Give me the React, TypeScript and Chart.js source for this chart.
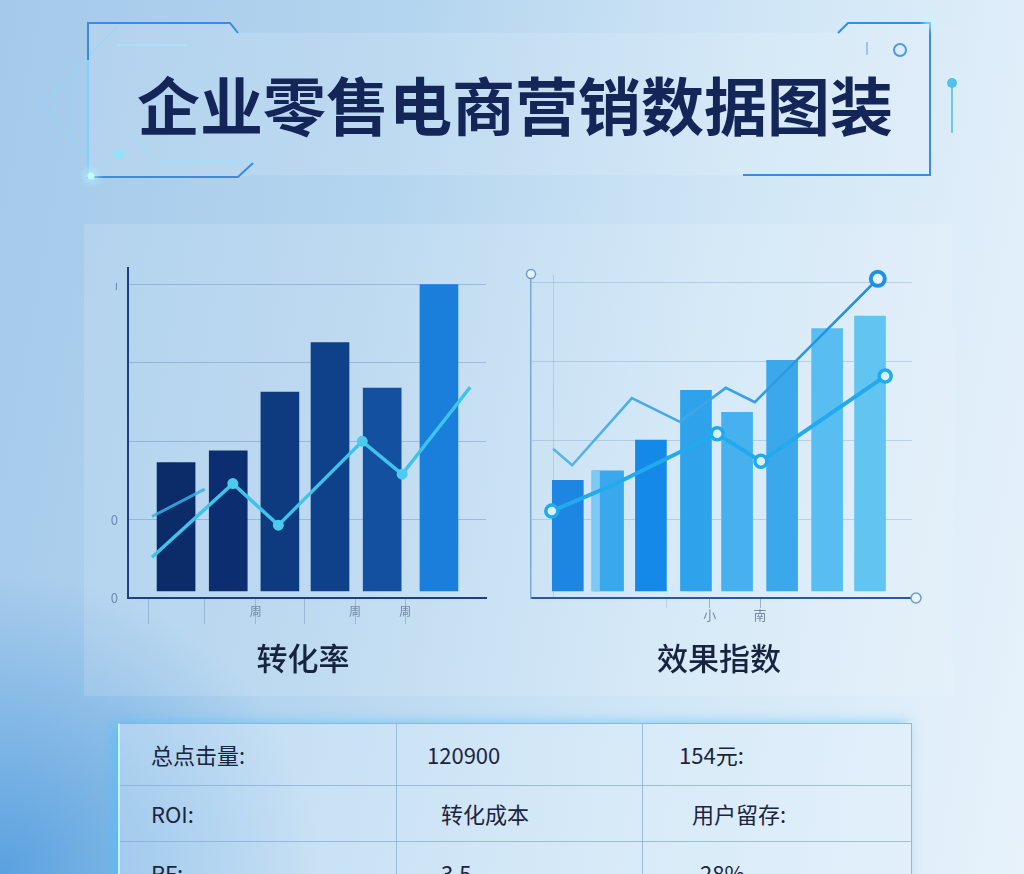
import React, { useEffect, useRef } from 'react';
import { Chart, registerables } from 'chart.js';

Chart.register(...registerables);

const FONT = '"Noto Sans CJK SC", "Noto Sans", sans-serif';

// ---------- Left chart (转化率) ----------
const leftBarX = [0.94, 1.96, 2.97, 3.95, 4.97, 6.08];
const leftBarValues = [1.73, 1.88, 2.63, 3.26, 2.68, 4.0];
const leftBarColors = ['#0b2b69', '#0c2e70', '#0e3b80', '#0f408a', '#13509f', '#1a7fdb'];
const leftLineX = [0.47, 2.05, 2.94, 4.58, 5.36, 6.69];
const leftLineValues = [0.52, 1.46, 0.93, 2.0, 1.58, 2.69];
const leftLinePoints = [0, 5.5, 5.5, 5.5, 5.5, 0];
const leftFaintX = [0.47, 1.5];
const leftFaintValues = [1.04, 1.39];
const leftTickX = [0.41, 1.5, 2.5, 3.46, 4.44, 5.42];
const leftTickLabels = ['', '', '周', '', '周', '周'];
const leftYTicks = [0, 1, 2, 3, 4];
const leftYLabels = ['0', '0', '', '', 'ı'];

// ---------- Right chart (效果指数) ----------
const rightBarX = [0.85, 1.78, 2.77, 3.81, 4.76, 5.8, 6.84, 7.83];
const rightBarValues = [1.49, 1.61, 2.0, 2.63, 2.35, 3.01, 3.41, 3.57];
const rightBarColors = ['#1d86e3', '#3aa8ec', '#1589e8', '#2ea3eb', '#46b1ee', '#3aa8ea', '#58bdf0', '#62c4f1'];
const rightHighlightX = [1.49];
const rightHighlightValues = [1.61];
const rightLineAX = [0.51, 0.95, 2.33, 3.44, 4.5, 5.17, 8.01];
const rightLineAValues = [1.89, 1.68, 2.53, 2.23, 2.66, 2.48, 4.04];
const rightLineAPoints = [0, 0, 0, 0, 0, 0, 7];
const rightLineBX = [0.48, 1.89, 4.3, 5.31, 8.18];
const rightLineBValues = [1.1, 1.43, 2.08, 1.73, 2.81];
const rightLineBPoints = [6, 0, 6, 6, 6];
const rightTickX = [0.51, 3.14, 4.13, 5.29];
const rightTickLabels = ['', '', '小', '南'];
const rightYTicks = [0, 1, 2, 3, 4];

// ---------- Table ----------
const tableRows = [
  ['总点击量:', '120900', '154元:'],
  ['ROI:', '转化成本', '用户留存:'],
  ['RF:', '3.5', '28%'],
];

const pts = (xs: number[], ys: number[]) => xs.map((x, i) => ({ x, y: ys[i] }));

function leftConfig(): any {
  return {
    type: 'bar',
    data: {
      datasets: [
        {
          type: 'line',
          data: pts(leftLineX, leftLineValues),
          borderColor: '#3fc3ec',
          borderWidth: 3.5,
          pointRadius: leftLinePoints,
          pointBackgroundColor: '#4ccbef',
          pointBorderWidth: 0,
          tension: 0,
          clip: false,
          order: 0,
        },
        {
          type: 'line',
          data: pts(leftFaintX, leftFaintValues),
          borderColor: 'rgba(56,176,232,0.85)',
          borderWidth: 3,
          pointRadius: 0,
          order: 0,
        },
        {
          type: 'bar',
          data: pts(leftBarX, leftBarValues),
          backgroundColor: leftBarColors,
          barThickness: 38,
          base: 0.09,
          grouped: false,
          order: 1,
        },
      ],
    },
    options: {
      responsive: false,
      animation: false,
      layout: { padding: { top: 15, right: 24, left: 0, bottom: 0 } },
      plugins: { legend: { display: false }, tooltip: { enabled: false } },
      scales: {
        x: {
          type: 'linear',
          min: 0,
          max: 7,
          offset: false,
          afterFit: (s: any) => { s.height = 42; },
          afterBuildTicks: (s: any) => { s.ticks = leftTickX.map((v) => ({ value: v })); },
          grid: { offset: false, drawOnChartArea: false, tickLength: 26, tickColor: 'rgba(110,140,180,0.45)', tickWidth: 1 },
          border: { color: '#1d3f7f', width: 2 },
          ticks: {
            autoSkip: false,
            maxRotation: 0,
            padding: -20,
            color: 'rgba(95,115,145,0.8)',
            font: { family: FONT, size: 12 },
            callback: (_v: any, i: number) => leftTickLabels[i],
          },
        },
        y: {
          min: 0,
          max: 4.215,
          afterFit: (s: any) => { s.width = 38; },
          afterBuildTicks: (s: any) => { s.ticks = leftYTicks.map((v) => ({ value: v })); },
          grid: {
            color: (c: any) => (c.tick && c.tick.value === 0 ? 'rgba(0,0,0,0)' : 'rgba(80,120,180,0.35)'),
            drawTicks: false,
            lineWidth: 1,
          },
          border: { color: '#1d3f7f', width: 2 },
          ticks: {
            padding: 10,
            color: '#6d8db5',
            font: { family: FONT, size: 13 },
            callback: (_v: any, i: number) => leftYLabels[i],
          },
        },
      },
    },
  };
}

const rightDecor = {
  id: 'rightDecor',
  afterDraw(chart: any) {
    const { ctx, chartArea: a } = chart;
    ctx.save();
    ctx.strokeStyle = '#6c9bd0';
    ctx.fillStyle = 'rgba(232,244,252,0.95)';
    ctx.lineWidth = 1.5;
    ctx.beginPath();
    ctx.arc(a.left, a.top - 1, 4.5, 0, Math.PI * 2);
    ctx.fill();
    ctx.stroke();
    ctx.beginPath();
    ctx.arc(a.right + 4, a.bottom, 5, 0, Math.PI * 2);
    ctx.fill();
    ctx.stroke();
    ctx.restore();
  },
};

function rightConfig(): any {
  return {
    type: 'bar',
    data: {
      datasets: [
        {
          type: 'line',
          data: pts(rightLineAX, rightLineAValues),
          borderColor: (c: any) => {
            const { chart } = c;
            const a = chart.chartArea;
            if (!a) return '#2a90e4';
            const g = chart.ctx.createLinearGradient(a.left, 0, a.right, 0);
            g.addColorStop(0, '#5cb9ea');
            g.addColorStop(0.5, '#3aa2e6');
            g.addColorStop(1, '#1a84e0');
            return g;
          },
          borderWidth: 2.6,
          pointRadius: rightLineAPoints,
          pointBorderWidth: 4,
          pointBorderColor: '#1f90e8',
          pointBackgroundColor: '#e6f6ff',
          tension: 0,
          clip: false,
          order: 0,
        },
        {
          type: 'line',
          data: pts(rightLineBX, rightLineBValues),
          borderColor: '#22aaee',
          borderWidth: 4,
          pointRadius: rightLineBPoints,
          pointBorderWidth: 3.5,
          pointBorderColor: '#1faaf0',
          pointBackgroundColor: '#d9f3fd',
          tension: 0,
          clip: false,
          order: 0,
        },
        {
          type: 'bar',
          data: pts(rightHighlightX, rightHighlightValues),
          backgroundColor: '#7ccaf4',
          barThickness: 8,
          base: 0.09,
          grouped: false,
          order: 1,
        },
        {
          type: 'bar',
          data: pts(rightBarX, rightBarValues),
          backgroundColor: rightBarColors,
          barThickness: 31,
          base: 0.09,
          grouped: false,
          order: 2,
        },
      ],
    },
    options: {
      responsive: false,
      animation: false,
      layout: { padding: { top: 25, right: 18, left: 0, bottom: 0 } },
      plugins: { legend: { display: false }, tooltip: { enabled: false } },
      scales: {
        x: {
          type: 'linear',
          min: 0,
          max: 8.8,
          offset: false,
          afterFit: (s: any) => { s.height = 42; },
          afterBuildTicks: (s: any) => { s.ticks = rightTickX.map((v) => ({ value: v })); },
          grid: {
            offset: false,
            drawOnChartArea: true,
            color: (c: any) => (c.index === 0 ? 'rgba(120,160,210,0.35)' : 'rgba(0,0,0,0)'),
            tickColor: (c: any) => (c.index === 0 ? 'rgba(0,0,0,0)' : c.index === 1 ? 'rgba(120,150,190,0.3)' : 'rgba(110,140,180,0.6)'),
            tickLength: 10,
            tickWidth: 1,
          },
          border: { color: '#2d55a0', width: 2 },
          ticks: {
            autoSkip: false,
            maxRotation: 0,
            padding: -1,
            color: 'rgba(95,115,145,0.8)',
            font: { family: FONT, size: 13 },
            callback: (_v: any, i: number) => rightTickLabels[i],
          },
        },
        y: {
          min: 0,
          max: 4.089,
          afterFit: (s: any) => { s.width = 21; },
          afterBuildTicks: (s: any) => { s.ticks = rightYTicks.map((v) => ({ value: v })); },
          grid: {
            color: (c: any) => (c.tick && c.tick.value === 0 ? 'rgba(0,0,0,0)' : 'rgba(110,150,200,0.32)'),
            drawTicks: false,
            lineWidth: 1,
          },
          border: { color: '#7aa8d8', width: 1.5 },
          ticks: { display: false },
        },
      },
    },
    plugins: [rightDecor],
  };
}

function ChartCanvas({ config, left, top }: { config: () => any; left: number; top: number }) {
  const ref = useRef<HTMLCanvasElement | null>(null);
  useEffect(() => {
    if (!ref.current) return;
    const chart = new Chart(ref.current, config());
    return () => chart.destroy();
  }, []);
  return (
    <canvas
      ref={ref}
      width={420}
      height={390}
      style={{ position: 'absolute', left, top, width: 420, height: 390 }}
    />
  );
}

function TitleFrame() {
  return (
    <svg width={1024} height={200} style={{ position: 'absolute', left: 0, top: 0 }}>
      <defs>
        <filter id="blur4" x="-20%" y="-200%" width="140%" height="500%">
          <feGaussianBlur stdDeviation="3" />
        </filter>
        <linearGradient id="topLine" x1="0" x2="1" y1="0" y2="0">
          <stop offset="0" stopColor="#3f8fe0" />
          <stop offset="0.35" stopColor="#9fdcff" />
          <stop offset="1" stopColor="#f4fdff" />
        </linearGradient>
        <linearGradient id="botLine" x1="0" x2="1" y1="0" y2="0">
          <stop offset="0" stopColor="#9fe0fb" />
          <stop offset="0.6" stopColor="#eafbff" />
          <stop offset="1" stopColor="#dff7ff" />
        </linearGradient>
      </defs>
      <polygon points="88,23 230,23 238,33 838,33 848,23 930,23 930,175 743,175 253,175 238,177 88,177" fill="rgba(255,255,255,0.13)" />
      <polyline points="117,27 40,105 88,157" fill="none" stroke="#8fd8f5" strokeWidth="1.2" opacity="0.75" />
      <line x1="72" y1="55" x2="72" y2="143" stroke="#8fd8f5" strokeWidth="1.2" opacity="0.7" />
      <line x1="55" y1="88" x2="55" y2="115" stroke="#8fd8f5" strokeWidth="1.2" opacity="0.6" />
      <line x1="117" y1="45" x2="187" y2="45" stroke="#a8e6fb" strokeWidth="1.5" opacity="0.8" />
      <polyline points="127,132 157,161 253,161" fill="none" stroke="#9fe0fb" strokeWidth="1.3" opacity="0.8" />
      <polyline points="238,33 230,23 88,23 88,177 238,177 253,163" fill="none" stroke="#3a8ce0" strokeWidth="2" />
      <line x1="88" y1="60" x2="88" y2="177" stroke="#8ee6ff" strokeWidth="2" opacity="0.8" />
      <polyline points="838,33 848,23 930,23 930,175 743,175" fill="none" stroke="#3a8ce0" strokeWidth="2" />
      <line x1="238" y1="33" x2="838" y2="33" stroke="#bff0ff" strokeWidth="6" opacity="0.45" filter="url(#blur4)" />
      <line x1="238" y1="33" x2="838" y2="33" stroke="url(#topLine)" strokeWidth="2.2" />
      <line x1="253" y1="162" x2="778" y2="162" stroke="#bff0ff" strokeWidth="6" opacity="0.45" filter="url(#blur4)" />
      <line x1="253" y1="162" x2="778" y2="162" stroke="url(#botLine)" strokeWidth="2.2" />
      <circle cx="119" cy="154" r="5.5" fill="#8fe3f7" opacity="0.85" />
      <circle cx="91" cy="176" r="8" fill="#aef0ff" opacity="0.6" filter="url(#blur4)" />
      <circle cx="91" cy="176" r="3.5" fill="#c8f6ff" />
      <circle cx="930" cy="23" r="7" fill="#c8f6ff" opacity="0.6" filter="url(#blur4)" />
      <circle cx="900" cy="50" r="6" fill="none" stroke="#4a9be0" strokeWidth="2" />
      <line x1="867" y1="42" x2="867" y2="55" stroke="#8ab8e0" strokeWidth="1.5" />
      <line x1="952" y1="83" x2="952" y2="133" stroke="#6cc8f0" strokeWidth="2" />
      <circle cx="952" cy="83" r="5" fill="#4cc3f0" />
    </svg>
  );
}

function Table() {
  const rowTops = [0, 61, 117];
  const rowHeights = [61, 56, 56];
  const colLefts = [31, 307, 559];
  const colPad = [[0, 0, 0], [0, 14, 13], [0, 14, 21]];
  return (
    <div
      style={{
        position: 'absolute',
        left: 118,
        top: 723,
        width: 794,
        height: 180,
        border: '1px solid rgba(130,175,225,0.85)',
        borderLeft: '2px solid #c4f2ff',
        background: 'rgba(230,243,252,0.38)',
        boxShadow: '-5px 0 12px rgba(80,190,250,0.7)',
        boxSizing: 'border-box',
      }}
    >
      <div style={{ position: 'absolute', left: 0, right: 0, top: 61, height: 1, background: 'rgba(130,170,215,0.7)' }} />
      <div style={{ position: 'absolute', left: 0, right: 0, top: 117, height: 1, background: 'rgba(130,170,215,0.7)' }} />
      <div style={{ position: 'absolute', left: 276, top: 0, bottom: 0, width: 1, background: 'rgba(130,170,215,0.7)' }} />
      <div style={{ position: 'absolute', left: 522, top: 0, bottom: 0, width: 1, background: 'rgba(130,170,215,0.7)' }} />
      {tableRows.map((row, r) =>
        row.map((cell, c) => (
          <div
            key={r + '-' + c}
            style={{
              position: 'absolute',
              left: colLefts[c] + colPad[r][c],
              top: rowTops[r] + (r === 2 ? 3 : 0),
              height: rowHeights[r],
              lineHeight: rowHeights[r] + 'px',
              fontFamily: FONT,
              fontSize: 22,
              color: '#1b2440',
              whiteSpace: 'nowrap',
            }}
          >
            {cell}
          </div>
        ))
      )}
    </div>
  );
}

export default function App() {
  return (
    <div
      style={{
        position: 'absolute',
        left: 0,
        top: 0,
        width: 1024,
        height: 874,
        overflow: 'hidden',
        background:
          'radial-gradient(ellipse 320px 300px at 0px 874px, rgba(70,150,220,0.8), rgba(70,150,220,0) 100%),' +
          'linear-gradient(100deg, #a4c9ea 0%, #b4d5ef 35%, #d0e6f6 65%, #e7f2fb 100%)',
      }}
    >
      <TitleFrame />
      <div
        style={{
          position: 'absolute',
          left: 0,
          top: 70,
          width: 1030,
          textAlign: 'center',
          fontFamily: FONT,
          fontWeight: 700,
          fontSize: 63,
          lineHeight: '66px',
          color: '#142558',
          whiteSpace: 'nowrap',
        }}
      >
        企业零售电商营销数据图装
      </div>
      <div
        style={{
          position: 'absolute',
          left: 84,
          top: 224,
          width: 870,
          height: 472,
          background: 'rgba(255,255,255,0.13)',
        }}
      />
      <ChartCanvas config={leftConfig} left={90} top={250} />
      <ChartCanvas config={rightConfig} left={510} top={250} />
      <div
        style={{
          position: 'absolute',
          left: 203,
          top: 638,
          width: 200,
          textAlign: 'center',
          fontFamily: FONT,
          fontWeight: 500,
          fontSize: 31,
          lineHeight: '38px',
          color: '#18233f',
        }}
      >
        转化率
      </div>
      <div
        style={{
          position: 'absolute',
          left: 619,
          top: 638,
          width: 200,
          textAlign: 'center',
          fontFamily: FONT,
          fontWeight: 500,
          fontSize: 31,
          lineHeight: '38px',
          color: '#18233f',
        }}
      >
        效果指数
      </div>
      <Table />
    </div>
  );
}
